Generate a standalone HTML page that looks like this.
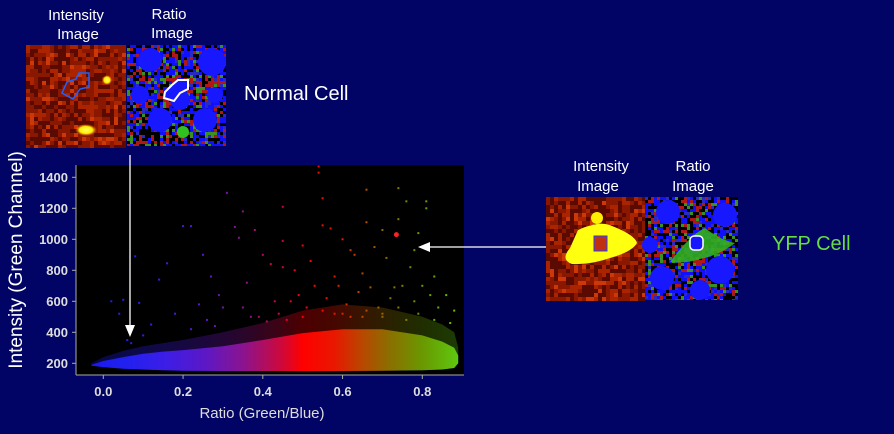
<!DOCTYPE html>
<html><head><meta charset="utf-8"><style>
html,body{margin:0;padding:0;background:#020465;width:894px;height:434px;overflow:hidden}
svg{display:block}
text{font-family:"Liberation Sans",Arial,sans-serif}
</style></head><body>
<svg id="root" width="894" height="434" viewBox="0 0 894 434">
<defs>
<linearGradient id="cloudGrad" gradientUnits="userSpaceOnUse" x1="83" x2="458" y1="0" y2="0"></linearGradient>
<radialGradient id="glowY" cx="0.5" cy="0.5" r="0.5"><stop offset="0" stop-color="#ffff60"/><stop offset="0.6" stop-color="#ffee00"/><stop offset="1" stop-color="#ff6000" stop-opacity="0"/></radialGradient>
<clipPath id="plotClip"><rect x="76" y="165" width="388" height="210"/></clipPath>
</defs>

<g id="imgA"></g>
<g id="imgB"></g>
<g id="imgC"></g>
<g id="imgD"></g>

<g fill="#ffffff" font-size="15" text-anchor="middle">
<text x="76" y="20">Intensity</text>
<text x="78" y="39">Image</text>
<text x="169" y="19">Ratio</text>
<text x="172" y="38">Image</text>
<text x="601" y="171">Intensity</text>
<text x="598" y="191">Image</text>
<text x="693" y="171">Ratio</text>
<text x="693" y="191">Image</text>
</g>
<text x="244" y="100" font-size="20" fill="#ffffff">Normal Cell</text>
<text x="772" y="250" font-size="20" fill="#66dd44">YFP Cell</text>

<rect x="76" y="165" width="388" height="210" fill="#000"/>
<g id="plot" clip-path="url(#plotClip)"></g>
<line x1="76" y1="165" x2="76" y2="375" stroke="#aaaaaa" stroke-width="1"/>
<line x1="76" y1="375" x2="464" y2="375" stroke="#aaaaaa" stroke-width="1"/>
<g id="axes"></g>
<text x="262" y="418" font-size="15" fill="#dddddd" text-anchor="middle">Ratio (Green/Blue)</text>
<text transform="translate(22,260) rotate(-90)" font-size="19" fill="#ffffff" text-anchor="middle">Intensity (Green Channel)</text>

<g>
<line x1="130" y1="155" x2="130" y2="326" stroke="#fff" stroke-width="1.3"/>
<polygon points="125,325 135,325 130,337" fill="#fff"/></g>
<g>
<line x1="546" y1="247" x2="428" y2="247" stroke="#fff" stroke-width="1.3"/>
<polygon points="430,242 430,252 418,247" fill="#fff"/></g>
</svg>
<script>
// ---- chart data ----
const xTicks = [0.0, 0.2, 0.4, 0.6, 0.8];
const yTicks = [200, 400, 600, 800, 1000, 1200, 1400];
const cloudRatio = [-0.03,0.0,0.05,0.1,0.15,0.2,0.3,0.4,0.5,0.6,0.7,0.8,0.85,0.88,0.89];
const cloudTop   = [190,215,240,262,275,285,310,350,395,420,420,380,340,300,250];
const cloudBottom= [185,175,165,160,155,152,150,150,150,150,152,155,160,170,200];
const haloTop    = [200,240,280,310,330,350,400,460,540,580,560,500,450,400,300];
const outRatio = [0.31,0.35,0.45,0.54,0.54,0.55,0.66,0.74,0.76,0.81,0.81,0.74,0.66,0.70,0.20,0.22,0.33,0.38,0.34,0.55,0.57,0.60,0.45,0.50,0.08,0.16,0.25,0.27,0.40,0.42,0.45,0.63,0.68,0.78,0.79,0.02,0.05,0.04,0.09,0.14,0.12,0.29,0.36,0.48,0.52,0.58,0.62,0.71,0.77,0.83,0.86,0.88,0.30,0.43,0.59,0.65,0.73,0.80,0.18,0.24,0.47,0.49,0.51,0.53,0.56,0.61,0.64,0.67,0.69,0.72,0.75,0.78,0.82,0.84,0.44,0.46,0.58,0.62,0.66,0.70,0.74,0.79,0.83,0.87,0.39,0.41,0.35,0.37,0.26,0.28,0.22,0.10,0.06,0.07,0.5,0.55,0.6,0.65,0.7,0.76];
const outInt   = [1300,1180,1210,1470,1430,1265,1320,1330,1245,1245,1200,1130,1110,1060,1085,1085,1080,1060,1010,1090,1070,1000,990,960,890,845,900,760,900,840,820,900,950,930,1040,600,610,520,590,740,450,640,720,800,860,760,930,880,820,760,640,540,560,600,700,780,690,700,520,580,600,640,560,700,620,580,660,690,560,620,700,600,640,560,520,480,520,500,540,520,560,520,480,460,500,470,560,500,480,440,420,380,350,330,500,540,520,500,500,480];
const bigPointRatio = [0.735];
const bigPointInt = [1030];
const gradRatio = [-0.05,0.05,0.15,0.25,0.35,0.45,0.5,0.58,0.65,0.72,0.8,0.89];
const gradColor = ['#1818e8','#2020f0','#3a1ee8','#5a18c8','#8a1490','#d00838','#ff0000','#e81800','#b84800','#8a7000','#6a9800','#5ec810'];

const NS="http://www.w3.org/2000/svg";
function sx(v){return 103.3+(v-0)*(422.3-103.3)/0.8;}
function sy(v){return 363.3-(v-200)*(363.3-177.3)/1200;}
function mk(tag,attrs,parent){const e=document.createElementNS(NS,tag);for(const k in attrs)e.setAttribute(k,attrs[k]);parent.appendChild(e);return e;}
const grad=document.getElementById('cloudGrad');
grad.setAttribute('x1',sx(gradRatio[0]));grad.setAttribute('x2',sx(gradRatio[gradRatio.length-1]));
const span=gradRatio[gradRatio.length-1]-gradRatio[0];
gradRatio.forEach((r,i)=>mk('stop',{offset:(r-gradRatio[0])/span,'stop-color':gradColor[i]},grad));
function colorAt(r){
  for(let i=0;i<gradRatio.length-1;i++){if(r<=gradRatio[i+1]){const t=Math.max(0,(r-gradRatio[i])/(gradRatio[i+1]-gradRatio[i]));
    const a=gradColor[i].match(/\w\w/g).map(h=>parseInt(h,16)),b=gradColor[i+1].match(/\w\w/g).map(h=>parseInt(h,16));
    return `rgb(${a.map((c,j)=>Math.round(c+(b[j]-c)*t)).join(',')})`;}}
  return gradColor[gradColor.length-1];
}
const plot=document.getElementById('plot');
function area(top,op,name){
  let d='M'+sx(cloudRatio[0])+','+sy(cloudBottom[0]);
  cloudRatio.forEach((r,i)=>{d+=' L'+sx(r)+','+sy(top[i]);});
  for(let i=cloudRatio.length-1;i>=0;i--)d+=' L'+sx(cloudRatio[i])+','+sy(cloudBottom[i]);
  const p=mk('path',{d:d+'Z',fill:'url(#cloudGrad)',opacity:op},plot);
  
  
}
area(haloTop,'0.3','scatter-halo');
area(cloudTop,'1','scatter-dense-cloud');
outRatio.forEach((r,i)=>{
  const p=mk('rect',{x:sx(r)-1,y:sy(outInt[i])-1,width:2,height:2,fill:colorAt(r)},plot);
  
  
});
bigPointRatio.forEach((r,i)=>{
  const p=mk('circle',{cx:sx(r),cy:sy(bigPointInt[i]),r:2.5,fill:'#ff2020'},plot);
  
  
});
const axes=document.getElementById('axes');
xTicks.forEach(v=>{
  const t=mk('line',{x1:sx(v),x2:sx(v),y1:375,y2:379,stroke:'#aaa'},axes);
  
  
  const l=mk('text',{x:sx(v),y:396,'font-size':13,'font-weight':'bold',fill:'#dddddd','text-anchor':'middle'},axes);
  l.textContent=v.toFixed(1);
  
  
});
yTicks.forEach(v=>{
  const t=mk('line',{x1:72,x2:76,y1:sy(v),y2:sy(v),stroke:'#aaa'},axes);
  
  
  const l=mk('text',{x:68,y:sy(v)+4.5,'font-size':13,'font-weight':'bold',fill:'#dddddd','text-anchor':'end'},axes);
  l.textContent=v;
  
  
});

// ---- cell image textures (decorative) ----
function hash(i,j,s){let h=(i*374761393+j*668265263+s*982451653)|0;h=(h^(h>>>13))*1274126177|0;return ((h^(h>>>16))>>>0)/4294967296;}
function intensityImg(g,x,y,w,h,seed){
  mk('rect',{x,y,width:w,height:h,fill:'#7a1400'},g);
  const c=4;
  for(let i=0;i<w/c;i++)for(let j=0;j<h/c;j++){const v=hash(i,j,seed);
    const col=v<0.35?'#5a0a00':v<0.7?'#8a1800':v<0.92?'#aa2400':'#cc3808';
    mk('rect',{x:x+i*c,y:y+j*c,width:Math.min(c,w-i*c),height:Math.min(c,h-j*c),fill:col},g);}
}
function ratioImg(g,x,y,w,h,seed){
  mk('rect',{x,y,width:w,height:h,fill:'#000'},g);
  const c=3;
  for(let i=0;i<w/c;i++)for(let j=0;j<h/c;j++){const v=hash(i,j,seed);
    const col=v<0.3?'#1010ff':v<0.6?'#000':v<0.8?'#b01818':v<0.9?'#2a2ac0':'#3a9020';
    mk('rect',{x:x+i*c,y:y+j*c,width:Math.min(c,w-i*c),height:Math.min(c,h-j*c),fill:col},g);}
}
const A=document.getElementById('imgA');intensityImg(A,26,45,100,103,1);
mk('ellipse',{cx:86,cy:130,rx:11,ry:6,fill:'url(#glowY)'},A);
mk('ellipse',{cx:107,cy:80,rx:5,ry:5,fill:'url(#glowY)'},A);
mk('polygon',{points:'67,82 76,79 79,73 89,73 89,87 80,89 73,99 62,93',fill:'none',stroke:'#2060ff','stroke-width':1.5},A);
const B=document.getElementById('imgB');ratioImg(B,127,45,99,101,2);
[[150,60,12],[212,62,14],[160,120,12],[205,120,12],[140,95,9],[180,100,10],[215,95,8]].forEach(b=>mk('circle',{cx:b[0],cy:b[1],r:b[2],fill:'#1818ff'},B));
mk('circle',{cx:183,cy:132,r:6,fill:'#30c020'},B);
mk('polygon',{points:'165,92 172,85 178,80 188,80 188,89 180,93 174,101 164,98',fill:'#1818ff',stroke:'#fff','stroke-width':2},B);
const C=document.getElementById('imgC');intensityImg(C,546,197,99,104,3);
mk('path',{d:'M578,230 Q600,220 612,226 Q635,235 637,243 Q632,252 610,258 Q590,265 572,264 Q560,260 570,248 Z',fill:'#ffff10'},C);
mk('ellipse',{cx:597,cy:218,rx:6,ry:6,fill:'#ffee00'},C);
mk('rect',{x:594,y:236,width:13,height:15,fill:'#c03010',stroke:'#2040ff','stroke-width':1},C);
const D=document.getElementById('imgD');ratioImg(D,645,197,93,103,4);
[[668,212,12],[725,215,12],[662,278,12],[720,270,14],[700,290,10],[650,245,8]].forEach(b=>mk('circle',{cx:b[0],cy:b[1],r:b[2],fill:'#1818ff'},D));
mk('path',{d:'M670,262 Q690,235 705,228 Q720,240 735,243 Q720,255 700,259 Q685,264 670,262 Z',fill:'#30b020',opacity:0.9},D);
mk('rect',{x:690,y:236,width:13,height:14,rx:4,fill:'#1818ff',stroke:'#fff','stroke-width':1.5},D);
</script>
</body></html>
